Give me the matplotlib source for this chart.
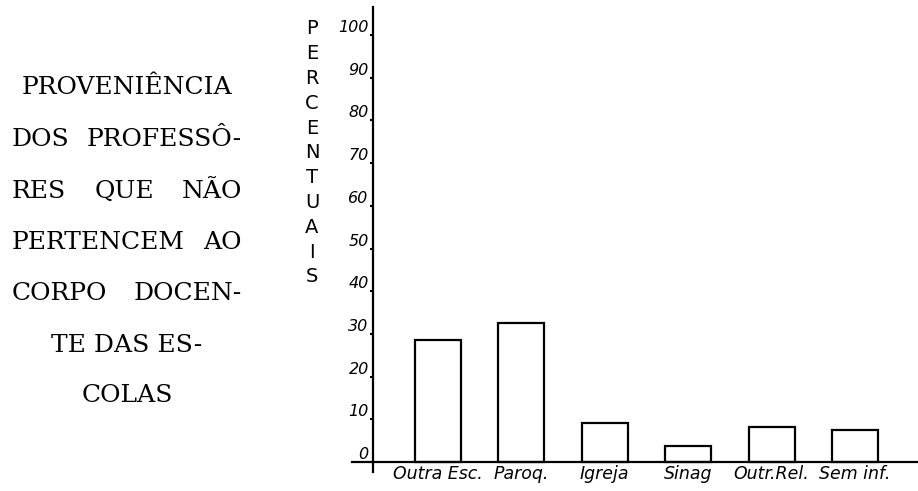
import matplotlib
matplotlib.use('Agg')
import matplotlib.pyplot as plt

# data
categories = ['Outra Esc.', 'Paroq.', 'Igreja', 'Sinag', 'Outr.Rel.', 'Sem inf.']
percentages = [28.6, 32.6, 9.1, 3.7, 8.2, 7.5]
yticks = [0, 10, 20, 30, 40, 50, 60, 70, 80, 90, 100]
title_lines = ['PROVENIÊNCIA', 'DOS PROFESSÔ-', 'RES QUE NÃO', 'PERTENCEM AO',
               'CORPO DOCEN-', 'TE DAS ES-', 'COLAS']
ylabel = 'PERCENTUAIS'

W, H = 918, 491
fig = plt.figure(figsize=(W / 100, H / 100), dpi=100)
fig.patch.set_facecolor('white')

# axes placed so the left and bottom lines cross like the drawing
ax = fig.add_axes([352 / W, 19 / H, 566 / W, 465 / H])
x = list(range(len(categories)))
ax.bar(x, percentages, width=0.55, color='white', edgecolor='black', linewidth=1.6)

ax.set_xlim(-1.03, 5.755)
ax.set_ylim(-2.34, 106.56)
ax.spines['top'].set_visible(False)
ax.spines['right'].set_visible(False)
ax.spines['left'].set_position(('data', -0.78))
ax.spines['bottom'].set_position(('data', 0))
for s in ['left', 'bottom']:
    ax.spines[s].set_linewidth(1.6)

ax.set_yticks(yticks)
ax.set_yticklabels([str(v) for v in yticks], fontsize=11.5, style='italic')
for lab in ax.get_yticklabels():
    lab.set_va('bottom')
ax.tick_params(axis='y', length=2, width=1.5, pad=1)

ax.set_xticks(x)
ax.set_xticklabels(categories, fontsize=12.5, style='italic')
ax.tick_params(axis='x', length=0, pad=2)

# vertical stacked axis title
for i, ch in enumerate(ylabel):
    fig.text(312 / W, 1 - (29 + i * 24.8) / H, ch, fontsize=14,
             ha='center', va='center', family='DejaVu Sans')

# title block on the left, justified lines like the print
fig.canvas.draw()
renderer = fig.canvas.get_renderer()
x0, x1 = 12, 242
line_y = [88, 140, 191, 242, 293, 345, 395]
justified = [False, True, True, True, True, False, False]
for line, yy, just in zip(title_lines, line_y, justified):
    yf = 1 - yy / H
    words = line.split()
    if not just or len(words) == 1:
        fig.text((x0 + x1) / 2 / W, yf, line, fontsize=18, family='DejaVu Serif',
                 ha='center', va='center')
        continue
    texts = [fig.text(0, yf, w, fontsize=18, family='DejaVu Serif', va='center')
             for w in words]
    widths = [t.get_window_extent(renderer).width for t in texts]
    gap = (x1 - x0 - sum(widths)) / (len(words) - 1)
    pos = x0
    for t, w in zip(texts, widths):
        t.set_x(pos / W)
        pos += w + gap

fig.savefig('out.png', dpi=100)
